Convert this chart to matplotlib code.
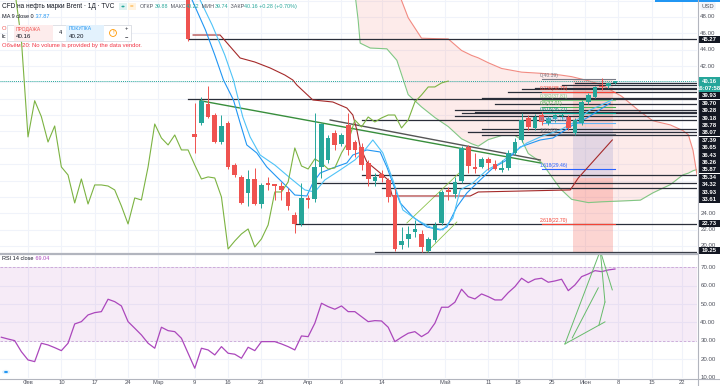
import matplotlib
matplotlib.use('Agg')
import matplotlib.pyplot as plt
from matplotlib.patches import Rectangle, Circle
import numpy as np

plt.rcParams['font.family'] = ['Liberation Sans', 'DejaVu Sans']

W, H = 720, 386

# daily candles, bar 0 = first visible candle (bar -1 is off the top of the pane)
first_bar = -1
opens = [51.60, 50.90, 33.69, 35.00, 37.36, 36.01, 32.71, 35.04, 29.90, 28.44, 26.48,
         28.19, 25.13, 27.70, 27.58, 27.33, 26.60, 23.79, 22.69, 25.87, 25.75, 29.66,
         30.51, 33.81, 32.47, 34.79, 32.71, 32.10, 30.15, 27.95, 28.80, 28.07, 26.23,
         20.12, 20.86, 21.71, 21.47, 19.39, 20.73, 22.81, 26.85, 26.36, 27.95, 32.10,
         29.66, 29.66, 30.64, 30.02, 29.29, 29.54, 31.37, 32.96, 35.65, 34.43, 36.01,
         35.04, 35.53, 35.90, 35.77, 33.81, 35.04, 37.60, 38.22, 39.56, 39.56, 39.88]
highs = [52.00, 51.30, 37.48, 38.25, 39.60, 36.26, 36.00, 35.28, 30.15, 28.68, 29.29,
         29.54, 27.70, 28.44, 27.60, 27.82, 27.09, 24.16, 27.70, 26.23, 36.26, 35.04,
         33.57, 34.18, 33.81, 36.26, 32.96, 32.59, 30.50, 28.92, 29.29, 28.31, 27.09,
         22.32, 22.44, 23.18, 21.96, 21.10, 22.93, 26.85, 27.21, 28.44, 32.22, 32.35,
         31.37, 30.88, 30.88, 30.51, 30.51, 31.74, 33.20, 36.26, 36.00, 36.14, 36.38,
         35.90, 36.14, 36.26, 36.01, 35.65, 37.85, 38.71, 39.56, 40.54, 40.10, 40.22]
lows = [50.90, 45.00, 31.37, 34.80, 35.65, 32.60, 32.47, 29.41, 28.44, 25.13, 24.89,
        25.01, 24.65, 26.85, 25.62, 25.62, 24.40, 21.59, 22.50, 24.65, 25.38, 28.31,
        30.15, 31.74, 32.22, 31.12, 30.88, 29.29, 27.33, 27.33, 27.82, 25.38, 19.33,
        19.60, 19.90, 21.10, 19.27, 19.27, 20.49, 22.57, 25.62, 25.87, 27.70, 28.92,
        28.92, 29.54, 29.29, 29.29, 29.05, 29.29, 31.12, 32.71, 34.18, 34.18, 34.79,
        34.79, 35.16, 35.53, 34.18, 33.57, 34.79, 37.36, 38.10, 39.07, 39.30, 39.74]
closes = [51.30, 45.27, 33.33, 37.76, 35.81, 32.71, 34.67, 29.66, 28.68, 25.26, 28.19,
          25.13, 27.46, 27.46, 27.33, 26.85, 24.89, 22.69, 25.87, 25.62, 29.66, 34.91,
          33.20, 32.35, 33.57, 31.74, 31.74, 29.90, 28.19, 28.44, 28.31, 25.99, 19.63,
          20.61, 21.47, 22.08, 19.88, 20.86, 22.57, 26.60, 26.60, 27.82, 31.98, 29.78,
          29.41, 30.64, 30.15, 29.41, 29.54, 31.37, 32.71, 35.40, 34.55, 35.77, 35.16,
          35.65, 36.01, 36.01, 34.43, 35.40, 37.60, 38.46, 39.44, 39.44, 39.93, 40.16]
lagging_shift = -25

# Ichimoku / MA lines (bar, price)
tenkan_bars = [0.6, 2.6, 4.0, 5.3, 6.8, 7.8, 8.8, 10.3, 11.8, 13.3, 15.3, 16.0, 17.8, 18.7,
               19.8, 21.7, 23.8, 24.7, 26.8, 28.8, 29.8, 31.8, 33.7, 35.8, 37.8, 38.8, 40.3,
               41.8, 43.8, 45.7, 47.8, 49.8, 52.8, 54.7, 57.7, 59.8, 63.3]
tenkan_prices = [50.07, 46.41, 43.35, 40.29, 37.85, 35.04, 32.35, 31.37, 29.66, 28.44, 26.85,
                 26.23, 26.11, 27.70, 28.92, 29.54, 30.15, 31.12, 31.74, 31.49, 29.66, 25.26,
                 23.55, 22.32, 21.96, 22.32, 24.77, 26.48, 28.07, 29.54, 30.51, 32.10, 32.96,
                 33.20, 34.79, 35.65, 37.48]
ma9_bars = [1.8, 3.6, 5.5, 6.8, 8.2, 9.3, 10.8, 13.0, 15.3, 17.5, 19.0, 20.5, 22.8, 25.0,
            26.5, 27.7, 29.2, 30.7, 32.2, 34.3, 36.3, 38.2, 39.7, 40.8, 42.7, 44.8, 46.8,
            48.7, 50.8, 52.8, 55.8, 57.7, 60.3, 63.6]
ma9_prices = [50.07, 47.02, 43.35, 40.29, 35.77, 33.33, 31.12, 29.90, 28.31, 26.85, 26.60,
              28.07, 29.29, 30.51, 31.74, 32.96, 31.37, 28.07, 24.40, 23.18, 22.32, 21.96,
              23.42, 26.85, 27.70, 29.29, 30.15, 31.37, 32.59, 33.33, 34.18, 35.04, 36.63,
              37.87]
kijun_bars = [0.75, 4.8, 7.8, 10.0, 12.3, 14.5, 15.7, 16.3, 18.7, 21.7, 23.8, 24.7, 25.3,
              25.8, 26.8, 28.8, 30.0, 30.6, 42.3, 43.5, 57.3, 58.5, 63.6]
kijun_prices = [45.79, 45.79, 42.98, 42.49, 41.76, 40.90, 40.29, 39.68, 37.85, 37.60, 36.87,
                36.01, 34.18, 32.10, 30.27, 28.92, 28.07, 26.11, 26.11, 26.60, 26.85, 28.31,
                32.96]
cloud_bars = [25.0, 25.5, 25.8, 27.3, 29.8, 31.3, 33.0, 35.0, 37.0, 39.0, 41.0, 42.5, 43.5,
              45.0, 47.0, 49.0, 50.0, 51.0, 53.0, 55.8, 57.5, 60.0, 62.0, 65.0, 67.8, 69.7,
              72.3, 74.2, 75.0, 75.7, 76.3]
span_a = [51.0, 47.6, 44.8, 44.2, 44.1, 42.7, 38.5, 37.0, 35.7, 34.6, 33.1, 32.5, 32.2,
          33.0, 33.5, 33.5, 33.0, 31.3, 30.2, 27.0, 25.7, 25.3, 25.4, 25.5, 25.6, 26.5,
          27.5, 28.7, 28.9, 29.2, 29.35]
span_b = [52.0, 52.0, 52.0, 52.0, 52.0, 51.5, 47.9, 45.4, 45.35, 45.31, 43.9, 43.3, 43.0,
          42.4, 41.7, 41.4, 41.25, 41.2, 41.1, 40.9, 40.7, 40.2, 39.7, 38.3, 36.4, 35.3,
          34.8, 34.1, 33.6, 31.7, 28.7]

# horizontal rays (price, first bar)
ray_prices = [45.27, 37.97, 39.93, 39.70, 39.28, 39.18, 38.78, 38.07, 37.39, 36.65, 36.43,
              36.26, 35.87, 35.34, 34.32, 33.93, 33.61, 22.73, 19.25]
ray_starts = [0, 0, 58, 56, 52, 50, 48, 44, 46, 40, 43, 41, 40, 26, 44, 42, 44, 16, 28]
plain_prices = [28.68, 27.70, 27.10]
plain_starts = [26, 19, 29]

# fibonacci extension
fib_ratios = ['0', '0.236', '0.382', '0.5', '0.618', '0.786', '1', '1.618', '2.618']
fib_prices = [40.39, 38.79, 37.81, 37.01, 36.21, 35.08, 33.63, 29.46, 22.70]
fib_colors = ['#787b86', '#f44336', '#81c784', '#4caf50', '#009688', '#64b5f6', '#787b86',
              '#2962ff', '#f44336']
fib_span = (53, 64)

# price-range boxes at the right edge (price top, price bottom, colour, alpha)
range_bars = (57.7, 63.7)
range_boxes = [(40.30, 34.60, '#f44336', 0.16),
               (34.60, 28.30, '#5c6bc0', 0.16),
               (28.30, 19.14, '#f44336', 0.22)]

# trend lines drawn by hand (bar, price)
trend_lines = [((1.8, 37.76), (52.8, 30.15), '#388e3c', 1.0),
               ((21.3, 35.40), (52.8, 30.51), '#555555', 1.0),
               ((32.8, 22.81), (40.8, 29.05), '#8bc34a', 0.6),
               ((35.8, 19.27), (40.3, 22.93), '#8bc34a', 0.6)]

rsi_first = -28
rsi_values = [31.96, 31.00, 30.11, 24.13, 19.62, 18.70, 28.70, 27.77, 26.30, 24.67, 28.70,
              39.18, 40.43, 44.08, 45.33, 45.87, 52.61, 51.30, 48.97, 40.43, 36.85, 33.21,
              28.70, 25.98, 37.39, 35.54, 35.00, 31.41, 23.26, 15.11, 25.98, 25.05, 22.34,
              26.85, 23.26, 22.72, 20.54, 26.52, 24.67, 29.57, 29.57, 29.57, 28.32, 26.85,
              25.05, 32.66, 32.28, 39.57, 50.43, 48.59, 47.17, 48.97, 45.87, 45.87, 43.15,
              40.43, 40.98, 40.80, 37.39, 29.57, 31.96, 34.13, 35.00, 32.28, 34.46, 39.57,
              48.26, 48.26, 50.98, 58.04, 54.02, 52.77, 55.49, 54.02, 52.23, 52.23, 56.20,
              59.46, 64.02, 61.63, 63.48, 64.02, 61.85, 62.55, 63.48, 57.28, 60.38, 64.89,
              66.36, 68.15, 67.61, 68.53, 69.04]
rsi_drawing = [((56.5, 28.3), (61.8, 79.0)), ((56.5, 28.3), (62.5, 40.3)),
               ((57.6, 31.6), (61.5, 58.8)), ((61.8, 79.0), (63.6, 57.7)),
               ((61.8, 79.0), (62.5, 51.1)), ((62.5, 51.1), (61.6, 38.6))]

date_pos = [-24, -19, -14, -9, -4.5, 1, 6, 11, 18, 23, 29, 38.5, 45, 49.5, 54.5, 59.5, 64.5,
            69.5, 74]
date_labels = ['Фев', '10', '17', '24', 'Мар', '9', '16', '23', 'Апр', '6', '14', 'Май',
               '11', '18', '25', 'Июн', '8', '15', '22']

GREEN = '#26a69a'
RED = '#ef5350'
GRID = '#f0f3fa'
TEXT = '#131722'
AXIS_TEXT = '#50535e'
XLIM = (-28.2, 76.3)
PRICE_LIM = (19.14, 50.07)
RSI_LIM = (9.8, 77.2)


def fx(x):
    return x / W


def fy(y):
    return 1 - y / H


def text_row(fig, x, y, pieces, size):
    # draw coloured pieces one after the other on one line
    r = fig.canvas.get_renderer()
    for txt, col in pieces:
        t = fig.text(fx(x), fy(y), txt, fontsize=size, color=col, va='center')
        x += t.get_window_extent(renderer=r).width + 0.5


def main():
    fig = plt.figure(figsize=(W / 100, H / 100), dpi=100)
    ax = fig.add_axes([0, fy(253), fx(697), 253 / H])
    ax2 = fig.add_axes([0, fy(378), fx(697), 124 / H])

    for a in (ax, ax2):
        a.set_xlim(*XLIM)
        a.set_xticks([])
        a.set_yticks([])
        for s in a.spines.values():
            s.set_visible(False)
        for p in date_pos:
            a.axvline(p, color=GRID, lw=0.8, zorder=0)
    ax.set_ylim(*PRICE_LIM)
    ax2.set_ylim(*RSI_LIM)
    for g in range(20, 51, 2):
        ax.axhline(g, color=GRID, lw=0.8, zorder=0)
    for g in range(10, 71, 10):
        ax2.axhline(g, color=GRID, lw=0.8, zorder=0)

    bars = np.arange(first_bar, first_bar + len(closes))
    o = np.array(opens)
    h = np.array(highs)
    l = np.array(lows)
    c = np.array(closes)

    # ichimoku cloud
    sa = np.array(span_a)
    sb = np.array(span_b)
    ax.fill_between(cloud_bars, sa, sb, where=sb >= sa, interpolate=True,
                    color='#f44336', alpha=0.10, lw=0, zorder=1)
    ax.fill_between(cloud_bars, sa, sb, where=sb < sa, interpolate=True,
                    color='#4caf50', alpha=0.10, lw=0, zorder=1)
    ax.plot(cloud_bars, span_a, color='#81c784', lw=0.8, zorder=2)
    ax.plot(cloud_bars, span_b, color='#f28b82', lw=0.8, zorder=2)

    for top, bot, col, alpha in range_boxes:
        ax.add_patch(Rectangle((range_bars[0], bot), range_bars[1] - range_bars[0], top - bot,
                               fc=col, alpha=alpha, ec='none', zorder=1.5))

    # horizontal levels
    for p, s in zip(ray_prices, ray_starts):
        ax.plot([s, XLIM[1]], [p, p], color='#2a2e39', lw=0.9, zorder=3)
    for p, s in zip(plain_prices, plain_starts):
        ax.plot([s, XLIM[1]], [p, p], color='#2a2e39', lw=0.9, zorder=3)

    # fibonacci
    for r, p, col in zip(fib_ratios, fib_prices, fib_colors):
        ax.plot(fib_span, [p, p], color=col, lw=0.8, zorder=3)
        ax.text(fib_span[0] - 0.3, p + 0.12, f'{r}({p:.2f})', color=col, fontsize=3.6,
                ha='left', va='bottom', zorder=6)

    for (x0, y0), (x1, y1), col, lw in trend_lines:
        ax.plot([x0, x1], [y0, y1], color=col, lw=lw, zorder=4)

    # lines
    ax.plot(kijun_bars, kijun_prices, color='#a52a2a', lw=0.8, zorder=4)
    ax.plot(tenkan_bars, tenkan_prices, color='#2196f3', lw=0.8, zorder=4)
    ax.plot(ma9_bars, ma9_prices, color='#4fc3f7', lw=0.8, zorder=4)
    ax.plot(bars + lagging_shift, c, color='#7cb342', lw=0.8, zorder=4)

    # candles
    up = c >= o
    cols = np.where(up, GREEN, RED)
    ax.vlines(bars, l, h, colors=cols, lw=0.7, zorder=5)
    body_lo = np.minimum(o, c)
    body_h = np.maximum(np.abs(c - o), 0.1)
    ax.bar(bars, body_h, bottom=body_lo, width=0.7, color=cols, lw=0, zorder=5)

    # last price line
    ax.axhline(closes[-1], color=GREEN, lw=0.7, ls=(0, (1, 1)), zorder=3)

    # RSI pane
    rsi_bars = np.arange(rsi_first, rsi_first + len(rsi_values))
    ax2.axhspan(30, 70, color='#9c27b0', alpha=0.09, lw=0, zorder=1)
    ax2.axhline(70, color='#c9a3d6', lw=0.6, ls=(0, (3, 2)), zorder=2)
    ax2.axhline(30, color='#c9a3d6', lw=0.6, ls=(0, (3, 2)), zorder=2)
    ax2.plot(rsi_bars, rsi_values, color='#ab47bc', lw=0.9, zorder=4)
    for (x0, y0), (x1, y1) in rsi_drawing:
        ax2.plot([x0, x1], [y0, y1], color='#66bb6a', lw=0.7, zorder=5, clip_on=True)

    # pane separator and axis line
    fig.add_artist(plt.Line2D([0, fx(697)], [fy(253.5), fy(253.5)], color='#b2b5be', lw=1.6))
    fig.add_artist(plt.Line2D([fx(697.5), fx(697.5)], [fy(386), 1], color='#b2b5be', lw=0.8))
    fig.add_artist(plt.Line2D([0, 1], [fy(378.5), fy(378.5)], color='#b2b5be', lw=0.8))

    # date labels
    for p, lab in zip(date_pos, date_labels):
        xp = (p - XLIM[0]) / (XLIM[1] - XLIM[0]) * 697
        if xp < 3 or xp > 695:
            continue
        fig.text(fx(xp), fy(382.5), lab, fontsize=4.2, color=AXIS_TEXT, ha='center', va='center')

    # price axis
    def price_y(p):
        return (PRICE_LIM[1] - p) / (PRICE_LIM[1] - PRICE_LIM[0]) * 253

    for t in [48, 46, 44, 42, 24, 22, 20]:
        fig.text(fx(708), fy(price_y(t)), f'{t:.2f}', fontsize=4.4, color=AXIS_TEXT,
                 ha='center', va='center')
    fig.text(fx(708), fy(6), 'USD', fontsize=4.2, color=AXIS_TEXT, ha='center', va='center',
             bbox=dict(boxstyle='round,pad=0.25', fc='#f0f3fa', ec='none'))

    def tag(y, txt, fc):
        fig.patches.append(Rectangle((fx(698.5), fy(y + 3.6)), fx(21), 7.2 / H, fc=fc, ec='none',
                                     transform=fig.transFigure, figure=fig))
        fig.text(fx(709), fy(y), txt, fontsize=4.3, color='white', ha='center', va='center',
                 fontweight='bold')

    tag(price_y(45.27), '45.27', TEXT)
    stack = [(closes[-1], '40.16', GREEN), (None, '16:07:58', GREEN)]
    for p in ray_prices[2:17]:
        stack.append((p, f'{p:.2f}', TEXT))
    stack.sort(key=lambda s: -(s[0] if s[0] is not None else closes[-1] - 0.001))
    y_prev = -100
    for p, txt, fc in stack:
        y = price_y(p) if p is not None else y_prev
        y = max(y, y_prev + 7.4)
        tag(y, txt, fc)
        y_prev = y
    tag(price_y(22.73), '22.73', TEXT)
    tag(price_y(19.25) - 1.5, '19.25', TEXT)

    # rsi axis
    def rsi_y(v):
        return 254 + (RSI_LIM[1] - v) / (RSI_LIM[1] - RSI_LIM[0]) * 124

    for t in range(10, 71, 10):
        fig.text(fx(708), fy(rsi_y(t)), f'{t:.2f}', fontsize=4.4, color=AXIS_TEXT,
                 ha='center', va='center')

    # header / legends
    text_row(fig, 2, 6.5, [('CFD на нефть марки Brent · 1Д · TVC', TEXT)], 4.7)
    fig.patches.append(Rectangle((fx(119), fy(10)), fx(8), 7 / H, fc='#e0f2f1', ec='none',
                                 transform=fig.transFigure, figure=fig))
    fig.patches.append(Circle((fx(123), fy(6.5)), 1.6 / W, fc=GREEN, ec='none',
                              transform=fig.transFigure, figure=fig))
    fig.patches.append(Rectangle((fx(128), fy(10)), fx(8), 7 / H, fc='#fff3e0', ec='none',
                                 transform=fig.transFigure, figure=fig))
    fig.text(fx(132), fy(6.5), '=', fontsize=4.5, color='#ff9800', ha='center', va='center')
    text_row(fig, 140, 6.5, [('ОТКР', AXIS_TEXT), ('39.88', GREEN), (' МАКС', AXIS_TEXT),
                             ('40.22', GREEN), (' МИН', AXIS_TEXT), ('39.74', GREEN),
                             (' ЗАКР', AXIS_TEXT), ('40.16 +0.28 (+0.70%)', GREEN)], 3.9)

    text_row(fig, 2, 17, [('MA 9 close 0', TEXT), (' 37.87', '#2196f3')], 4.0)
    fig.text(fx(2), fy(29), 'O', fontsize=4.2, color=RED, va='center')
    fig.text(fx(2), fy(37), 'Ic', fontsize=4.2, color=TEXT, va='center')

    # trade widget
    fig.patches.append(Rectangle((fx(7), fy(41)), fx(124), 16 / H, fc='white', ec='#d1d4dc',
                                 lw=0.5, transform=fig.transFigure, figure=fig))
    fig.patches.append(Rectangle((fx(14), fy(40.5)), fx(39), 15 / H, fc='#fdecec', ec='none',
                                 transform=fig.transFigure, figure=fig))
    fig.patches.append(Rectangle((fx(66), fy(40.5)), fx(38), 15 / H, fc='#e3f2fd', ec='none',
                                 transform=fig.transFigure, figure=fig))
    fig.text(fx(16), fy(29), 'ПРОДАЖА', fontsize=3.6, color=RED, va='center')
    fig.text(fx(16), fy(36), '40.16', fontsize=4.4, color=TEXT, va='center')
    fig.text(fx(60), fy(33), '4', fontsize=4.0, color=TEXT, ha='center', va='center')
    fig.text(fx(69), fy(29), 'ПОКУПКА', fontsize=3.6, color='#2196f3', va='center')
    fig.text(fx(69), fy(36), '40.20', fontsize=4.4, color=TEXT, va='center')
    fig.text(fx(113), fy(33), '!', fontsize=4.5, color='#ff9800', ha='center', va='center',
             bbox=dict(boxstyle='circle,pad=0.15', fc='white', ec='#ff9800', lw=0.6))
    fig.text(fx(126), fy(28.5), '+', fontsize=4.2, color=TEXT, ha='center', va='center')
    fig.text(fx(126), fy(36.5), '−', fontsize=4.2, color=TEXT, ha='center', va='center')

    fig.text(fx(2), fy(46), 'Объём 20: No volume is provided by the data vendor.',
             fontsize=4.2, color='#f23645', va='center')

    text_row(fig, 2, 259, [('RSI 14 close', TEXT), (' 69.04', '#ab47bc')], 4.0)

    fig.patches.append(Rectangle((fx(655), fy(2)), fx(65), 2 / H, fc='#2196f3', ec='none',
                                 transform=fig.transFigure, figure=fig))
    fig.patches.append(Circle((fx(6), fy(372)), 4 / W, fc='#e3f2fd', ec='none',
                              transform=fig.transFigure, figure=fig))
    fig.patches.append(Circle((fx(6), fy(372)), 2 / W, fc='#2196f3', ec='none',
                              transform=fig.transFigure, figure=fig))

    fig.savefig('out.png', dpi=100)


if __name__ == '__main__':
    main()
